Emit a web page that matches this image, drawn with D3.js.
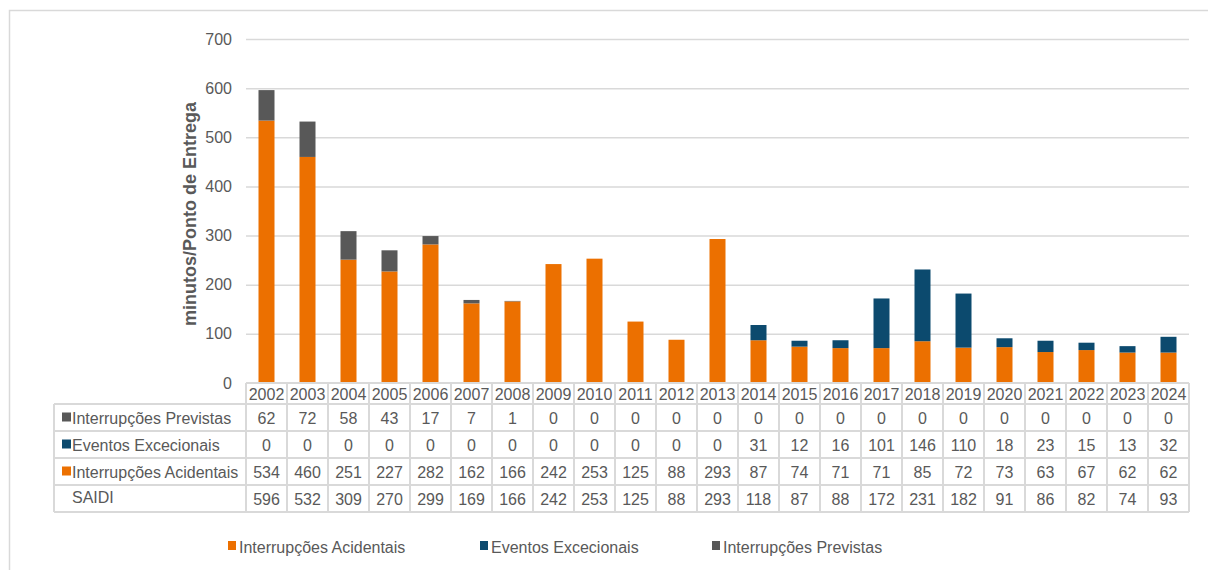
<!DOCTYPE html>
<html>
<head>
<meta charset="utf-8">
<script src="https://cdn.jsdelivr.net/npm/d3@7"></script>
<style>
  html, body { margin: 0; padding: 0; background: #fff; }
  svg { display: block; font-family: "Liberation Sans", Arial, sans-serif; }
</style>
</head>
<body>
<svg id="chart" width="1208" height="570"></svg>
<script>
// SAIDI components per year (minutes per delivery point)
const years = ["2002","2003","2004","2005","2006","2007","2008","2009","2010","2011","2012","2013",
               "2014","2015","2016","2017","2018","2019","2020","2021","2022","2023","2024"];
const previstas   = [62,72,58,43,17,7,1,0,0,0,0,0,0,0,0,0,0,0,0,0,0,0,0];
const excecionais = [0,0,0,0,0,0,0,0,0,0,0,0,31,12,16,101,146,110,18,23,15,13,32];
const acidentais  = [534,460,251,227,282,162,166,242,253,125,88,293,87,74,71,71,85,72,73,63,67,62,62];
const saidi       = [596,532,309,270,299,169,166,242,253,125,88,293,118,87,88,172,231,182,91,86,82,74,93];
const yTicks = [0,100,200,300,400,500,600,700];

const seriesNames = ["Interrupções Acidentais","Eventos Excecionais","Interrupções Previstas"];
const colors = {
  "Interrupções Acidentais": "#EC7000",
  "Eventos Excecionais": "#0C4A6E",
  "Interrupções Previstas": "#585858"
};
const textColor = "#595959";
const gridColor = "#d9d9d9";
const fontSize = "16px";

const svg = d3.select("#chart");

// outer chart frame
svg.append("rect")
  .attr("x", 9.5).attr("y", 10.5)
  .attr("width", 1220).attr("height", 600)
  .attr("fill", "none").attr("stroke", gridColor).attr("stroke-width", 1.5);

const plotLeft = 246, plotRight = 1189, plotTop = 39, plotBottom = 383;

const x = d3.scaleBand().domain(years).range([plotLeft, plotRight]).paddingInner(25/41).paddingOuter(12.5/41);
const xCol = d3.scaleBand().domain(years).range([plotLeft, plotRight]).padding(0);
const y = d3.scaleLinear().domain([0, 700]).range([plotBottom, plotTop]);

// gridlines
svg.append("g").selectAll("line")
  .data(yTicks.filter(d => d > 0))
  .join("line")
  .attr("x1", plotLeft).attr("x2", plotRight)
  .attr("y1", d => y(d) + 0.5).attr("y2", d => y(d) + 0.5)
  .attr("stroke", gridColor).attr("stroke-width", 1.5);

// y axis labels
const yAxis = d3.axisLeft(y).tickValues(yTicks).tickSize(0).tickPadding(14);
const gy = svg.append("g").attr("transform", `translate(${plotLeft},0)`).call(yAxis);
gy.select(".domain").remove();
gy.selectAll("text").attr("fill", textColor).style("font-size", fontSize)
  .style("font-family", "'Liberation Sans', Arial, sans-serif");

// axis title
svg.append("text")
  .attr("transform", `translate(196,214) rotate(-90)`)
  .attr("text-anchor", "middle")
  .attr("fill", textColor)
  .style("font-size", "18px").style("font-weight", "bold")
  .text("minutos/Ponto de Entrega");

// stacked bars
const rows = years.map((yr, i) => ({
  year: yr,
  "Interrupções Acidentais": acidentais[i],
  "Eventos Excecionais": excecionais[i],
  "Interrupções Previstas": previstas[i]
}));
const stack = d3.stack().keys(seriesNames)(rows);
svg.append("g").selectAll("g")
  .data(stack).join("g")
  .attr("fill", d => colors[d.key])
  .selectAll("rect")
  .data(d => d)
  .join("rect")
  .attr("x", d => x(d.data.year))
  .attr("width", x.bandwidth())
  .attr("y", d => y(d[1]))
  .attr("height", d => y(d[0]) - y(d[1]));

// data table
const rowTops = [383, 404, 431, 458, 485, 512];
const tableRows = [
  { label: "Interrupções Previstas", key: "Interrupções Previstas", values: previstas },
  { label: "Eventos Excecionais", key: "Eventos Excecionais", values: excecionais },
  { label: "Interrupções Acidentais", key: "Interrupções Acidentais", values: acidentais },
  { label: "SAIDI", key: null, values: saidi }
];
const tableLeft = 54;
const tbl = svg.append("g");
const lineStyle = sel => sel.attr("stroke", gridColor).attr("stroke-width", 2).attr("fill", "none");

// header row (years)
tbl.append("line").attr("x1", plotLeft).attr("x2", plotRight).attr("y1", rowTops[0]).attr("y2", rowTops[0]).call(lineStyle);
// horizontal lines for body rows
rowTops.slice(1).forEach(t => {
  tbl.append("line").attr("x1", tableLeft).attr("x2", plotRight).attr("y1", t).attr("y2", t).call(lineStyle);
});
// vertical lines
tbl.append("line").attr("x1", tableLeft).attr("x2", tableLeft).attr("y1", rowTops[1]).attr("y2", rowTops[5]).call(lineStyle);
years.forEach(yr => {
  tbl.append("line").attr("x1", xCol(yr)).attr("x2", xCol(yr)).attr("y1", rowTops[0]).attr("y2", rowTops[5]).call(lineStyle);
});
tbl.append("line").attr("x1", plotRight).attr("x2", plotRight).attr("y1", rowTops[0]).attr("y2", rowTops[5]).call(lineStyle);

// year labels
tbl.selectAll("text.year").data(years).join("text")
  .attr("class", "year")
  .attr("x", d => xCol(d) + xCol.bandwidth() / 2)
  .attr("y", (rowTops[0] + rowTops[1]) / 2 + 6)
  .attr("text-anchor", "middle")
  .attr("fill", textColor).style("font-size", fontSize)
  .text(d => d);

tableRows.forEach((r, ri) => {
  const cy = (rowTops[ri + 1] + rowTops[ri + 2]) / 2;
  if (r.key) {
    tbl.append("rect").attr("x", 62).attr("y", cy - 5).attr("width", 9).attr("height", 9)
      .attr("fill", colors[r.key]);
  }
  tbl.append("text").attr("x", 72).attr("y", cy + (r.key ? 6 : 4.5))
    .attr("fill", textColor).style("font-size", fontSize).text(r.label);
  tbl.selectAll(null).data(r.values).join("text")
    .attr("x", (d, i) => xCol(years[i]) + xCol.bandwidth() / 2)
    .attr("y", cy + 6)
    .attr("text-anchor", "middle")
    .attr("fill", textColor).style("font-size", fontSize)
    .text(d => d);
});

// legend
const legendX = [228, 480, 712];
const lg = svg.append("g");
seriesNames.forEach((name, i) => {
  lg.append("rect").attr("x", legendX[i]).attr("y", 541).attr("width", 8).attr("height", 9).attr("fill", colors[name]);
  lg.append("text").attr("x", legendX[i] + 11).attr("y", 552.5)
    .attr("fill", textColor).style("font-size", fontSize).text(name);
});
</script>
</body>
</html>
